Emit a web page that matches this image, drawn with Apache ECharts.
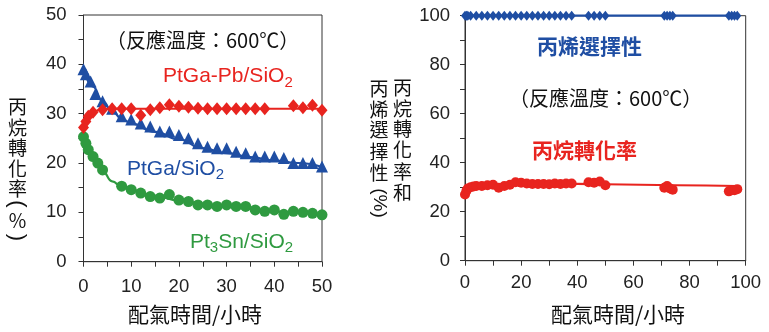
<!DOCTYPE html>
<html><head><meta charset="utf-8">
<script src="https://cdn.jsdelivr.net/npm/echarts@6/dist/echarts.min.js"></script>
<style>html,body{margin:0;padding:0;background:#fff}#c{width:769px;height:332px}</style>
</head><body><div id="c"></div>
<script>
// ---- Left chart: propane conversion vs time on stream (h)
const leftXTicks = [0, 10, 20, 30, 40, 50];
const leftYTicks = [0, 10, 20, 30, 40, 50];
const pbX = [0,0.5,1,2,4,6,8,10,12,14,16,18,20,22,24,26,28,30,32,34,36,38,44,46,48,50];
const pbY = [27.2,28.4,29.5,30.3,30.8,31,31,31,29.7,30.8,31.2,31.8,31.5,31.3,31.1,31,31,31,31,31,31,31,31.6,31.2,31.7,30.7];
const pbFitX = [0,0.5,1,2,3,4,6,8,50];
const pbFitY = [27,28.2,29.1,30.2,30.7,30.9,31,31,31];
const gaX = [0,0.5,1.5,2.5,4,6,8,10,12,14,16,18,20,22,24,26,28,30,32,34,36,38,40,42,44,46,48,50];
const gaY = [39,38,36.5,34,32.5,31,29.5,28.8,28,27.4,26.4,26.4,25.7,25,24,23.3,23,23,22.3,22,21.3,21.3,21.3,21,20,20,20,19.3];
const gaFitX = [0,2,4,6,8,10,15,20,25,30,35,40,45,50];
const gaFitY = [39,35.5,32.5,30.5,29,28,26.3,24.8,23,22,21.2,20.5,20,19.2];
const snX = [0,0.5,1,2,3,4,8,10,12,14,16,18,20,22,24,26,28,30,32,34,36,38,40,42,44,46,48,50];
const snY = [25.3,24,22.7,21.3,20,18.6,15.3,14.6,13.9,13.2,12.9,13.6,12.5,12.2,11.5,11.5,11.2,11.5,11.2,11.2,10.5,10.2,10.5,9.6,10.2,10,9.8,9.5];
const snFitX = [0,1,2,3,4,6,8,10,15,20,25,30,35,40,45,50];
const snFitY = [25.3,23,21.2,19.6,18.3,16.3,15.2,14.5,13.3,12.4,11.7,11.2,10.7,10.2,9.9,9.6];

// ---- Right chart: PtGa-Pb/SiO2 long run
const rightXTicks = [0, 20, 40, 60, 80, 100];
const rightYTicks = [0, 20, 40, 60, 80, 100];
const selX = [0,0.5,1,2,4,6,8,10,12,14,16,18,20,22,24,26,28,30,32,34,36,38,44,46,48,50,71,72,73,74,94,95,96,97];
const selY = [100,100,100,100,100,100,100,100,100,100,100,100,100,100,100,100,100,100,100,100,100,100,100,100,100,100,100,100,100,100,100,100,100,100];
const convX = [0,0.5,1,2,3,4,6,8,10,12,14,16,18,20,22,24,26,28,30,32,34,36,38,44,46,48,50,71,72,73,74,94,95,96,97];
const convY = [27,28.5,29.5,30,30.3,30.5,30.5,30.8,31,29.8,30.5,31,32,31.8,31.5,31.3,31.3,31.3,31.2,31.5,31.3,31.5,31.5,32,31.8,32.3,30.8,29.8,30.5,29.5,29,28.3,28.8,28.8,29.2];
const convFitX = [0,5,10,18,30,50,75,97];
const convFitY = [28.5,30.3,30.8,31.5,31.5,31.2,30.8,30.5];

const RED = '#e8241f', BLUE = '#1f4ea3', GREEN = '#2f9a40', AX = '#333';
const LAT = '"Liberation Sans", Arial, sans-serif';
const CJK = '"Noto Sans CJK TC", "Noto Sans CJK SC", sans-serif';
const zip = (a, b) => a.map((v, i) => [v, b[i]]);

function axisX(gi, max, step, ticks, margin) {
  return {
    type: 'value', gridIndex: gi, min: 0, max: max, interval: step,
    axisLine: {show: true, lineStyle: {color: AX, width: 1}},
    axisTick: {show: true, inside: false, length: 5, lineStyle: {color: AX}},
    splitLine: {show: false},
    axisLabel: {margin: margin, fontSize: 18.5, fontFamily: LAT, color: '#222',
      formatter: v => ticks.includes(v) ? String(v) : ''}
  };
}
function axisY(gi, max, step, ticks, margin) {
  return {
    type: 'value', gridIndex: gi, min: 0, max: max, interval: step,
    axisLine: {show: true, lineStyle: {color: AX, width: 1}},
    axisTick: {show: true, inside: false, length: 5, lineStyle: {color: AX}},
    splitLine: {show: false},
    axisLabel: {margin: margin, fontSize: 18.5, fontFamily: LAT, color: '#222',
      formatter: v => ticks.includes(v) ? String(v) : ''}
  };
}
function fit(gi, x, y, color) {
  return {type: 'line', xAxisIndex: gi, yAxisIndex: gi, data: zip(x, y), smooth: 0.5,
    smoothMonotone: 'x', showSymbol: false, symbol: 'none', lineStyle: {color: color, width: 2.2},
    silent: true, z: 2, clip: false};
}
function pts(gi, x, y, color, symbol, size) {
  return {type: 'scatter', xAxisIndex: gi, yAxisIndex: gi, data: zip(x, y), symbol: symbol,
    symbolSize: size, itemStyle: {color: color, opacity: 1}, z: 3, clip: false};
}

function txt(x, y, text, font, color, extra) {
  return Object.assign({type: 'text', x: x, y: y, silent: true,
    style: Object.assign({text: text, font: font, fill: color, align: 'center', verticalAlign: 'middle'}, extra || {})});
}
function sub(x, y, parts, color) {
  return {type: 'text', x: x, y: y, silent: true, style: {
    text: parts, fill: color, align: 'left', verticalAlign: 'top',
    rich: {
      a: {fontSize: 21, fontFamily: LAT, lineHeight: 24, verticalAlign: 'top', fill: color},
      s: {fontSize: 15, fontFamily: LAT, verticalAlign: 'bottom', fill: color}
    }}};
}

const graphics = [];
// left y-axis name (vertical)
const lChars = ['丙', '烷', '轉', '化', '率'];
const lYs = [106.5, 127.5, 148, 168.5, 188.5];
lChars.forEach((c, i) => graphics.push(txt(17.5, lYs[i], c, '19px ' + CJK, '#111')));
graphics.push(txt(17.5, 204, '(', '22px ' + LAT, '#111', {}));
graphics[graphics.length - 1].rotation = -Math.PI / 2;
graphics.push(txt(17.5, 221, '％', '19px ' + CJK, '#111'));
graphics.push(txt(17.5, 237.5, ')', '22px ' + LAT, '#111', {}));
graphics[graphics.length - 1].rotation = -Math.PI / 2;
// right y-axis name (two columns)
const r1 = ['丙', '烷', '轉', '化', '率', '和'];
const r1Y = [88, 109, 129, 150, 172, 193];
r1.forEach((c, i) => graphics.push(txt(402.5, r1Y[i], c, '19px ' + CJK, '#111')));
const r2 = ['丙', '烯', '選', '擇', '性'];
const r2Y = [89, 110, 130, 152, 172.5];
r2.forEach((c, i) => graphics.push(txt(379, r2Y[i], c, '19px ' + CJK, '#111')));
graphics.push(txt(379, 203, '(%)', '19px ' + LAT, '#111'));
graphics[graphics.length - 1].rotation = -Math.PI / 2;
// x-axis names
graphics.push(txt(195, 314, '配氣時間/小時', '21px ' + CJK, '#111'));
graphics.push(txt(618, 314, '配氣時間/小時', '21px ' + CJK, '#111'));
// annotations left
graphics.push(txt(106, 40, '（反應溫度：600℃）', '20px ' + CJK, '#111', {align: 'left'}));
graphics.push(sub(163, 66, '{a|PtGa-Pb/SiO}{s|2}', RED));
graphics.push(sub(127, 158.5, '{a|PtGa/SiO}{s|2}', BLUE));
graphics.push(sub(190, 231.5, '{a|Pt}{s|3}{a|Sn/SiO}{s|2}', GREEN));
// annotations right
graphics.push(txt(537, 46, '丙烯選擇性', 'bold 21px ' + CJK, BLUE, {align: 'left'}));
graphics.push(txt(509, 98, '（反應溫度：600℃）', '20px ' + CJK, '#111', {align: 'left'}));
graphics.push(txt(532, 150, '丙烷轉化率', 'bold 21px ' + CJK, RED, {align: 'left'}));

const chart = echarts.init(document.getElementById('c'), null, {renderer: 'canvas'});
chart.setOption({
  animation: false,
  backgroundColor: '#fff',
  grid: [
    {left: 83.5, top: 15, width: 238.5, height: 246.7, show: true, borderColor: AX, borderWidth: 1, backgroundColor: 'transparent'},
    {left: 465, top: 15.7, width: 280.7, height: 245, show: true, borderColor: AX, borderWidth: 1, backgroundColor: 'transparent'}
  ],
  xAxis: [axisX(0, 50, 5, leftXTicks, 16), axisX(1, 100, 10, rightXTicks, 13)],
  yAxis: [axisY(0, 50, 5, leftYTicks, 17), axisY(1, 100, 10, rightYTicks, 15)],
  series: [
    fit(0, snFitX, snFitY, GREEN), pts(0, snX, snY, GREEN, 'circle', 11),
    fit(0, gaFitX, gaFitY, BLUE), pts(0, gaX, gaY, BLUE, 'triangle', 12),
    fit(0, pbFitX, pbFitY, RED), pts(0, pbX, pbY, RED, 'diamond', [11, 13]),
    fit(1, selX, selY, BLUE), pts(1, selX, selY, BLUE, 'diamond', [8, 10]),
    fit(1, convFitX, convFitY, RED), pts(1, convX, convY, RED, 'circle', 10)
  ],
  graphic: graphics
});
</script></body></html>
